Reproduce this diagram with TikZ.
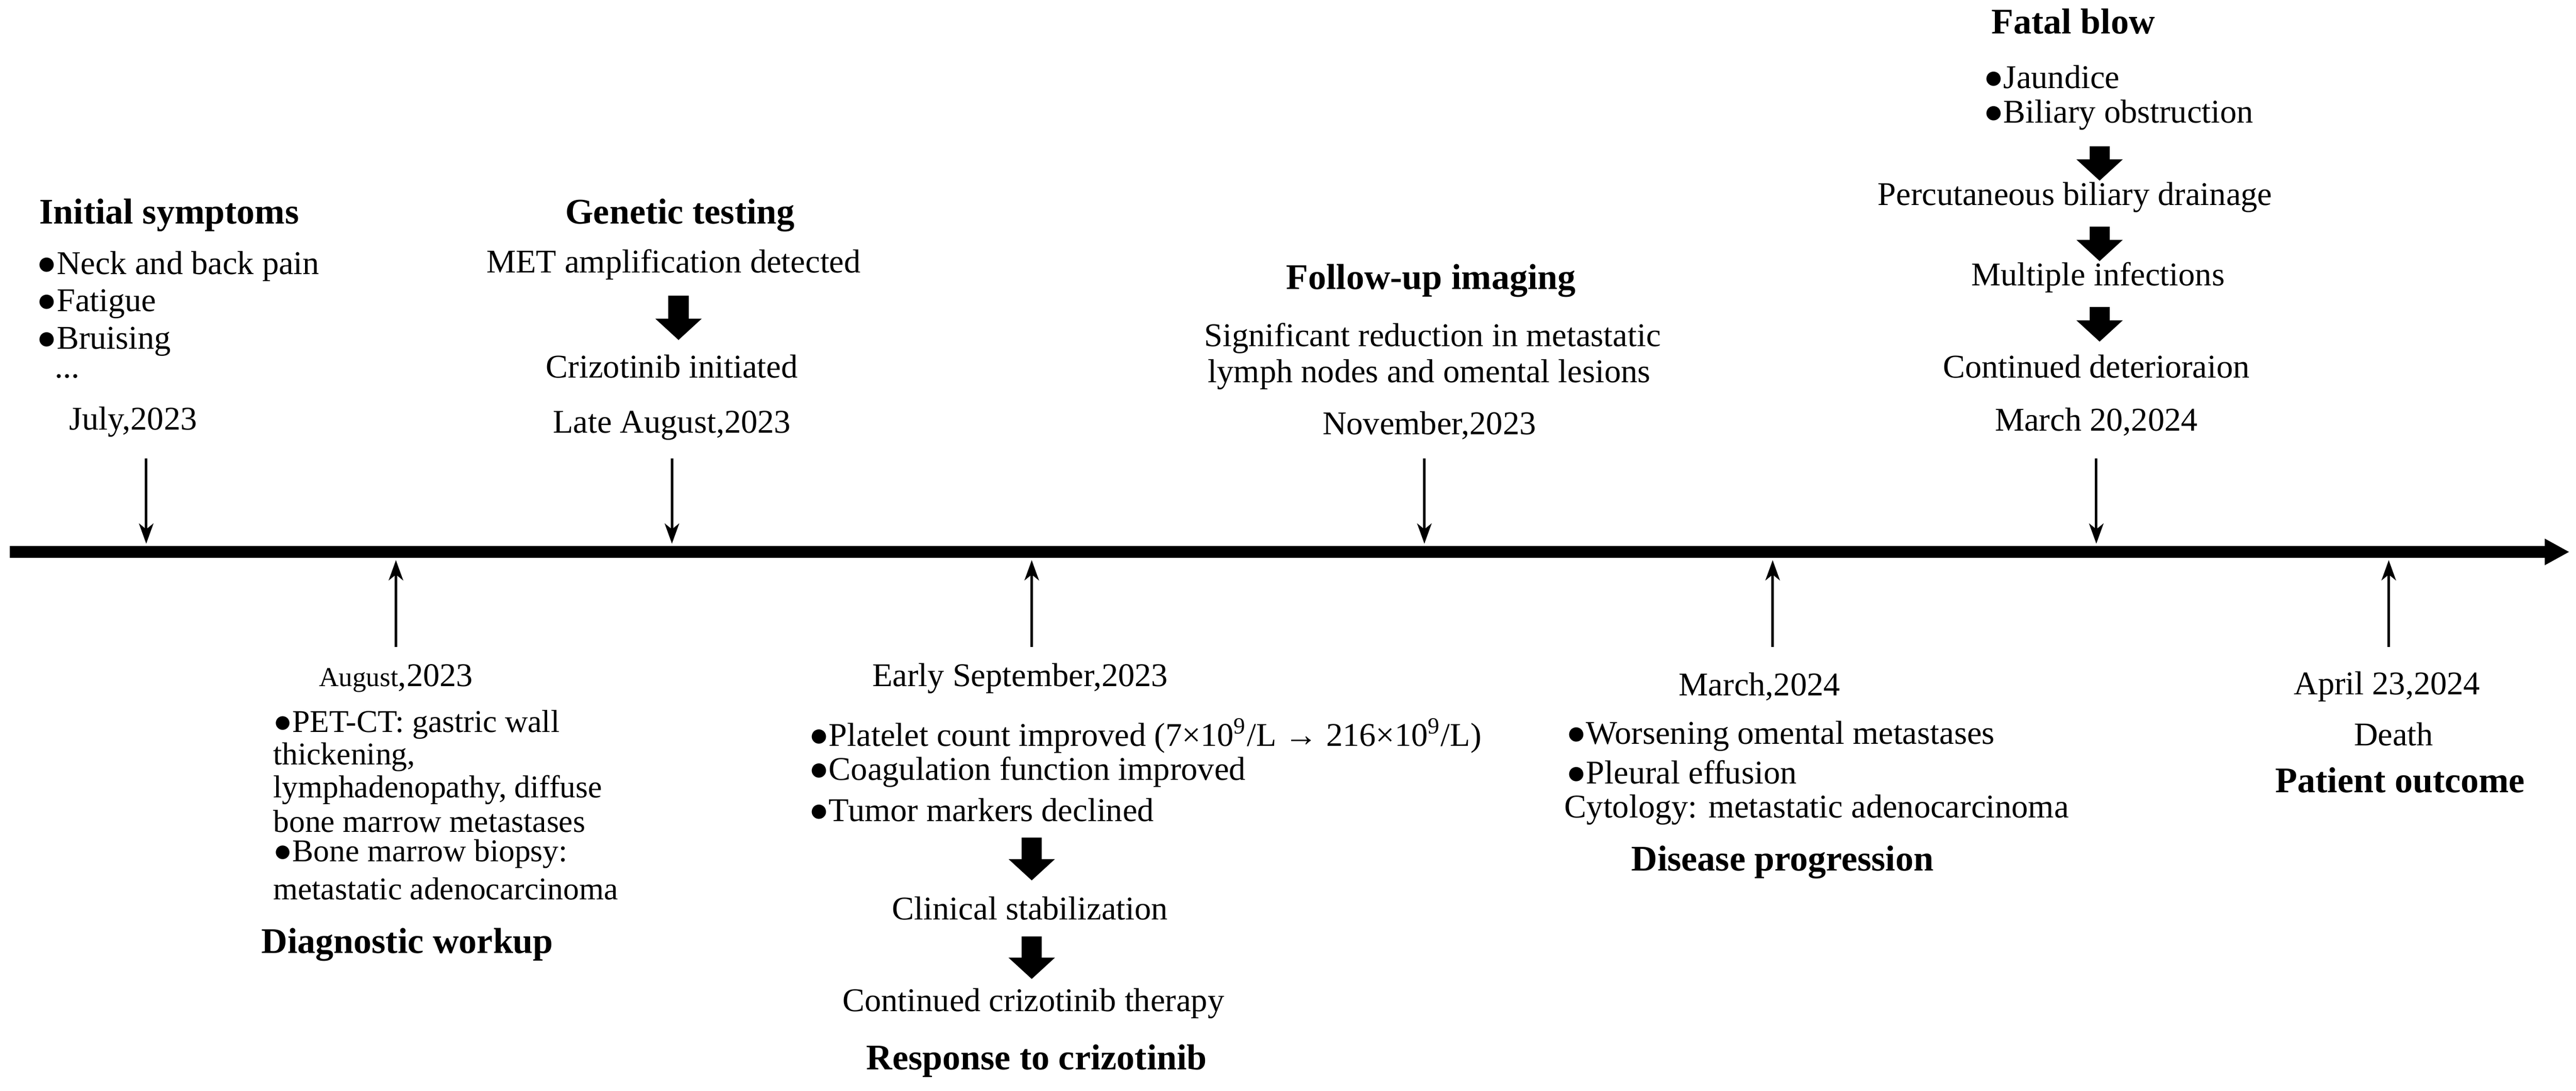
\documentclass[tikz,border=0pt]{standalone}
\usepackage{fontspec}
\setmainfont{Liberation Serif}
\usetikzlibrary{arrows.meta}
\begin{document}
\begin{tikzpicture}[x=0.02cm,y=-0.02cm,
  txt/.style={inner sep=0pt,font=\fontsize{11.5}{13}\selectfont},
  lt/.style={txt,anchor=west},
  ttl/.style={inner sep=0pt,font=\fontsize{12.5}{14}\selectfont\bfseries},
  pin/.style={line width=0.9pt,-{Stealth[length=7pt,width=5pt,inset=2pt]}},
  blk/.style={line width=7pt,-{Triangle[length=0.26cm,width=0.55cm]}},
  bl/.style={lt,font=\fontsize{11}{13}\selectfont}]
\useasboundingbox (0,0) rectangle (1568,664);
% axis
\coordinate (a0) at (6,336); \coordinate (a1) at (1564,336);
\draw[line width=4.2pt,-{Triangle[length=0.3cm,width=0.3cm]}] (a0) -- (a1);
% top pins
\foreach \n/\x in {p1/89,p2/409,p3/867,p4/1276}{
  \coordinate (\n t) at (\x,279); \coordinate (\n b) at (\x,331);
  \draw[pin] (\n t) -- (\n b);}
\foreach \n/\x in {q1/241,q2/628,q3/1079,q4/1454}{
  \coordinate (\n b) at (\x,394); \coordinate (\n t) at (\x,341);
  \draw[pin] (\n b) -- (\n t);}
% Initial symptoms
\node[ttl] (t1) at (103,131) {Initial symptoms};
\node[lt] (s11) at (22,162) {●Neck and back pain};
\node[lt] (s12) at (22,185) {●Fatigue};
\node[lt] (s13) at (22,208) {●Bruising};
\node[lt] (s14) at (33,229) {...};
\node[txt] (d1) at (81,257) {July,2023};
% Genetic testing
\node[ttl] (t2) at (414,131) {Genetic testing};
\node[txt] (g1) at (410,161) {MET amplification detected};
\node[txt] (g2) at (409,223) {Crizotinib initiated};
\draw[blk] (413,180) -- (413,207);
\node[txt] (d2) at (409,259) {Late August,2023};
% Follow-up
\node[ttl] (t3) at (871,171) {Follow-up imaging};
\node[txt] (f1) at (872,206) {Significant reduction in metastatic};
\node[txt] (f2) at (870,228) {lymph nodes and omental lesions};
\node[txt] (d3) at (870,259) {November,2023};
% Fatal blow
\node[ttl] (t4) at (1262,13) {Fatal blow};
\node[lt] (b1) at (1207,47) {●Jaundice};
\node[lt] (b2) at (1207,70) {●Biliary obstruction};
\draw[blk] (1278,89) -- (1278,110);
\node[txt] (b3) at (1263,120) {Percutaneous biliary drainage};
\draw[blk] (1278,138) -- (1278,159);
\node[txt] (b4) at (1277,169) {Multiple infections};
\draw[blk] (1278,187) -- (1278,208);
\node[txt] (b5) at (1276,223) {Continued deterioraion};
\node[txt] (d4) at (1276,257) {March 20,2024};
% Diagnostic workup
\node[txt] (e1) at (241,413) {{\fontsize{9.5}{11}\selectfont August},2023};
\node[bl] (e11) at (166,441) {●PET-CT: gastric wall};
\node[bl] (e12) at (166,461) {thickening,};
\node[bl] (e13) at (166,481) {lymphadenopathy, diffuse};
\node[bl] (e14) at (166,500) {bone marrow metastases};
\node[bl] (e15) at (166,520) {●Bone marrow biopsy:};
\node[bl] (e16) at (166,541) {metastatic adenocarcinoma};
\node[ttl] (u1) at (248,575) {Diagnostic workup};
% Response
\node[txt] (e2) at (621,413) {Early September,2023};
\node[lt] (r1) at (492,448) {●Platelet count improved (7×10\textsuperscript{9}/L → 216×10\textsuperscript{9}/L)};
\node[lt] (r2) at (492,470) {●Coagulation function improved};
\node[lt] (r3) at (492,493) {●Tumor markers declined};
\draw[blk] (628,510) -- (628,536);
\node[txt] (r4) at (627,553) {Clinical stabilization};
\draw[blk] (628,570) -- (628,596);
\node[txt] (r5) at (629,611) {Continued crizotinib therapy};
\node[ttl] (u2) at (631,646) {Response to crizotinib};
% Progression
\node[txt] (e3) at (1071,418) {March,2024};
\node[lt] (m1) at (953,448) {●Worsening omental metastases};
\node[lt] (m2) at (953,470) {●Pleural effusion};
\node[lt] (m3) at (952,493) {Cytology: metastatic adenocarcinoma};
\node[ttl] (u3) at (1085,525) {Disease progression};
% Outcome
\node[txt] (e4) at (1453,418) {April 23,2024};
\node[txt] (o1) at (1457,447) {Death};
\node[ttl] (u4) at (1461,475) {Patient outcome};
\end{tikzpicture}
\end{document}
